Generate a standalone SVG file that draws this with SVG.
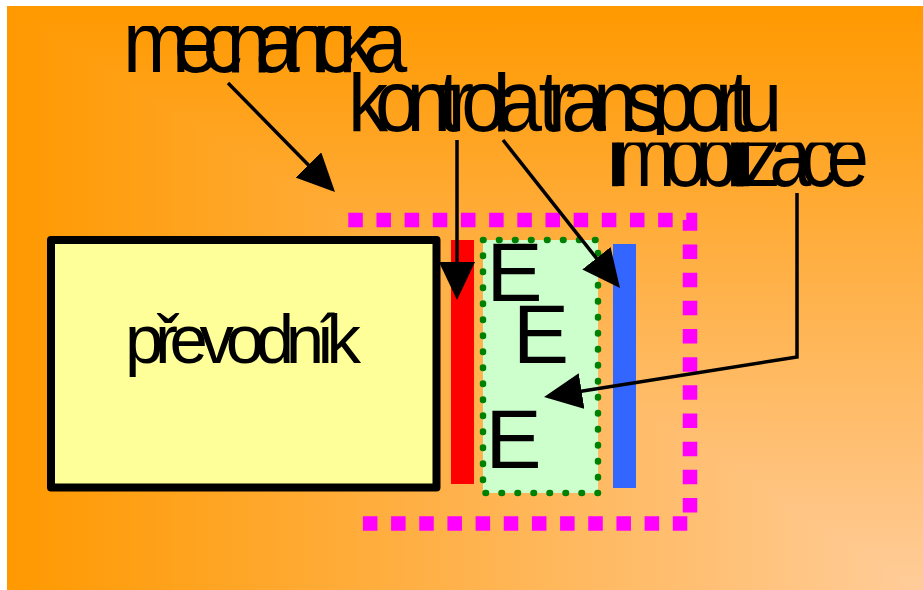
<svg xmlns="http://www.w3.org/2000/svg" width="923" height="590" viewBox="0 0 923 590">
  <defs>
    <!-- corner gradient: orange along the top and left edges, peach at the bottom-right corner -->
    <linearGradient id="bgH" gradientUnits="userSpaceOnUse" x1="7" y1="0" x2="923" y2="0">
      <stop offset="0" stop-color="#FF9900"/>
      <stop offset="1" stop-color="#FFCC99"/>
    </linearGradient>
    <linearGradient id="bgV" gradientUnits="userSpaceOnUse" x1="0" y1="6" x2="0" y2="590">
      <stop offset="0" stop-color="#FF9900"/>
      <stop offset="1" stop-color="#FFCC99"/>
    </linearGradient>
    <marker id="head" viewBox="0 0 38 36" refX="34" refY="18" markerWidth="38" markerHeight="36" markerUnits="userSpaceOnUse" orient="auto">
      <path d="M0,0 L38,18 L0,36 z" fill="#000"/>
    </marker>
    <clipPath id="clipMech"><rect x="0" y="26" width="923" height="60"/></clipPath>
    <clipPath id="clipKontr"><rect x="0" y="72" width="923" height="63"/></clipPath>
    <clipPath id="clipImob"><rect x="0" y="142.5" width="923" height="60"/></clipPath>
  </defs>
  <style>
    .label { font-family: "Liberation Sans", Arial, sans-serif; font-size: 87px; fill: #000; }
    .big { font-family: "Liberation Sans", Arial, sans-serif; fill: #000; }
    .conn { fill: none; stroke: #000; stroke-width: 3.5; marker-end: url(#head); }
  </style>

  <!-- background -->
  <g id="background">
    <rect x="7" y="6" width="916" height="584" fill="url(#bgH)"/>
    <polygon points="7,6 923,6 923,590" fill="url(#bgV)"/>
  </g>

  <!-- dotted magenta frame (open on the left) -->
  <g id="frame">
    <path d="M348.3,220 H690 V523.5 H358" fill="none" stroke="#FF00FF" stroke-width="14.5" stroke-dasharray="14.5 13.67"/>
  </g>

  <g id="prevodnik">
    <rect x="51" y="240" width="385.5" height="247.5" fill="#FFFF99" stroke="#000" stroke-width="8" stroke-linejoin="round"/>
    <text class="big" x="125" y="363" font-size="69" textLength="236" lengthAdjust="spacing">převodník</text>
  </g>

  <g id="red-layer">
    <rect x="451" y="240" width="23" height="244" fill="#FF0000"/>
  </g>

  <g id="enzyme-zone">
    <rect x="483" y="240" width="115" height="253" fill="#CCFFCC"/>
    <rect x="483" y="240" width="115" height="253" fill="none" stroke="#008000" stroke-width="6.5" stroke-dasharray="0.5 15.5" stroke-linecap="round"/>
    <text class="big" x="486.4" y="301" font-size="84">E</text>
    <text class="big" x="513" y="363" font-size="84">E</text>
    <text class="big" x="485.4" y="468" font-size="84">E</text>
  </g>

  <g id="blue-layer">
    <rect x="613" y="244" width="23" height="244" fill="#3366FF"/>
  </g>

  <!-- labels -->
  <g id="label-mechanicka" clip-path="url(#clipMech)">
    <g transform="translate(123,72) scale(0.92,1)">
      <text class="label" x="0" y="0" textLength="309" lengthAdjust="spacing">mechanická</text>
    </g>
  </g>
  <g id="label-kontrola" clip-path="url(#clipKontr)">
    <g transform="translate(348,131) scale(0.92,1)">
      <text class="label" x="0" y="0" textLength="472" lengthAdjust="spacing">kontrola transportu</text>
    </g>
  </g>
  <g id="label-imobilizace" clip-path="url(#clipImob)">
    <g transform="translate(607,186) scale(0.87,1)">
      <text class="label" x="0" y="0" textLength="301" lengthAdjust="spacing">imobilizace</text>
    </g>
  </g>

  <!-- connectors -->
  <g id="connectors">
    <line class="conn" x1="228" y1="83" x2="332.2" y2="189.2"/>
    <line class="conn" x1="457" y1="140" x2="457" y2="296"/>
    <line class="conn" x1="503" y1="140" x2="617.5" y2="284.9"/>
    <polyline class="conn" points="797,193 797,357 548,396.4"/>
  </g>
</svg>
